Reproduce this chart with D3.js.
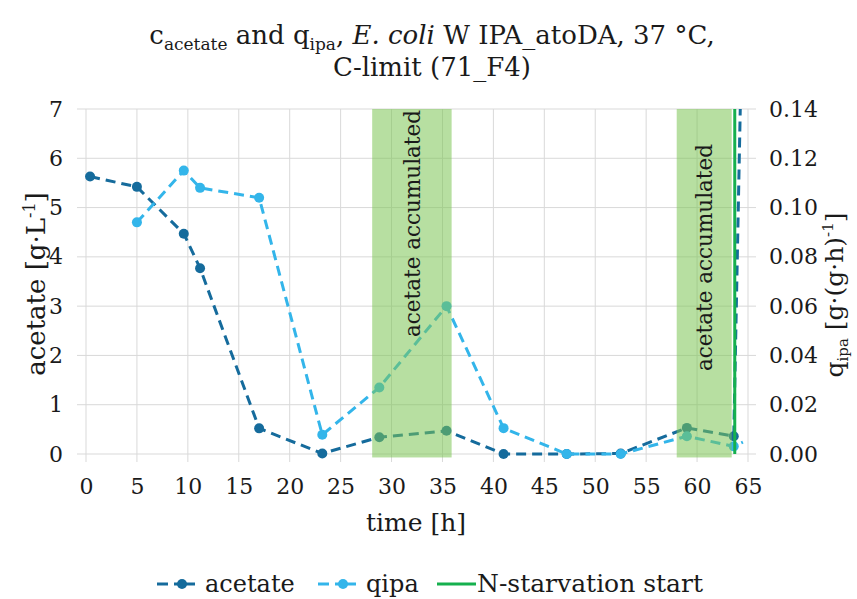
<!DOCTYPE html>
<html><head><meta charset="utf-8">
<script src="https://cdn.jsdelivr.net/npm/d3@7"></script>
<style>body{margin:0;background:#fff}svg{display:block}svg text{font-family:"DejaVu Serif",serif !important;fill:#1a1a1a}</style>
</head><body><div id="chart"></div>
<script>
// ---- data ----
const time    = [0.4, 5.0, 9.6, 11.2, 17.0, 23.2, 28.8, 35.4, 41.0, 47.2, 52.5, 59.0, 63.6, 64.5];
const acetate = [5.63, 5.42, 4.47, 3.77, 0.52, 0.01, 0.34, 0.47, 0.0, 0.0, 0.01, 0.53, 0.36, 9.7];
const qipa    = [null, 0.094, 0.115, 0.108, 0.104, 0.0078, 0.027, 0.060, 0.0105, 0.0, 0.0, 0.0072, 0.0031, 0.0048];
const markerShown = [1,1,1,1,1,1,1,1,1,1,1,1,1,0];
const shadeStart = [28.1, 58.0];
const shadeEnd   = [35.9, 63.4];
const shadeLabel = ["acetate accumulated", "acetate accumulated"];
const nStarvation = 63.7;
const xTicks  = [0,5,10,15,20,25,30,35,40,45,50,55,60,65];
const yLTicks = [0,1,2,3,4,5,6,7];
const yRTicks = [0,0.02,0.04,0.06,0.08,0.10,0.12,0.14];

const W = 857, H = 599;
const L = 86, R = 748, T = 109, B = 454;
const cAc = "#156b9c", cQ = "#33b5ea", cN = "#16b04e";

const svg = d3.select("#chart").append("svg").attr("width", W).attr("height", H);
const x  = d3.scaleLinear().domain([0, 65]).range([L, R]);
const yL = d3.scaleLinear().domain([0, 7]).range([B, T]);
const yR = d3.scaleLinear().domain([0, 0.14]).range([B, T]);

svg.append("clipPath").attr("id", "clip").append("rect")
  .attr("x", L - 10).attr("y", T).attr("width", R - L + 20).attr("height", B - T + 10);

// grid
const grid = svg.append("g").attr("stroke", "#d9d9d9").attr("stroke-width", 1);
grid.selectAll(".h").data(yLTicks).join("line")
  .attr("x1", L - 9).attr("x2", R + 8).attr("y1", d => yL(d)).attr("y2", d => yL(d));
grid.selectAll(".v").data(xTicks).join("line")
  .attr("x1", d => x(d)).attr("x2", d => x(d)).attr("y1", T).attr("y2", B + 8);

// axes (labels only, via d3 axes)
const axL = svg.append("g").attr("transform", `translate(${L - 9},0)`)
  .call(d3.axisLeft(yL).tickValues(yLTicks).tickSize(0).tickPadding(14).tickFormat(d3.format("d")));
const axR = svg.append("g").attr("transform", `translate(${R + 8},0)`)
  .call(d3.axisRight(yR).tickValues(yRTicks).tickSize(0).tickPadding(13).tickFormat(d3.format(".2f")));
const axB = svg.append("g").attr("transform", `translate(0,${B + 8})`)
  .call(d3.axisBottom(x).tickValues(xTicks).tickSize(0).tickPadding(16).tickFormat(d3.format("d")));
[axL, axR, axB].forEach(a => {
  a.select(".domain").remove();
  a.selectAll("text").attr("font-size", 22).attr("fill", "#1a1a1a");
});

const plot = svg.append("g").attr("clip-path", "url(#clip)");
const pts = time.map((t, i) => ({t, a: acetate[i], q: qipa[i], m: markerShown[i]}));

// acetate
plot.append("path").datum(pts).attr("fill", "none").attr("stroke", cAc)
  .attr("stroke-width", 3).attr("stroke-dasharray", "10,6")
  .attr("d", d3.line().x(d => x(d.t)).y(d => yL(d.a)));
plot.selectAll(".ma").data(pts.filter(d => d.m)).join("circle")
  .attr("cx", d => x(d.t)).attr("cy", d => yL(d.a)).attr("r", 5).attr("fill", cAc);

// qipa
const qp = pts.filter(d => d.q !== null);
plot.append("path").datum(qp).attr("fill", "none").attr("stroke", cQ)
  .attr("stroke-width", 3).attr("stroke-dasharray", "10,6")
  .attr("d", d3.line().x(d => x(d.t)).y(d => yR(d.q)));
plot.selectAll(".mq").data(qp.filter(d => d.m)).join("circle")
  .attr("cx", d => x(d.t)).attr("cy", d => yR(d.q)).attr("r", 5).attr("fill", cQ);

// shaded regions
const shades = shadeStart.map((s, i) => ({s, e: shadeEnd[i], label: shadeLabel[i]}));
svg.selectAll(".shade").data(shades).join("rect")
  .attr("x", d => x(d.s)).attr("width", d => x(d.e) - x(d.s))
  .attr("y", yL(7)).attr("height", yL(-0.07) - yL(7))
  .attr("fill", "#7cc453").attr("opacity", 0.55);
const labTop = [110, 144];
svg.selectAll(".slab").data(shades).join("text")
  .attr("transform", (d, i) => `translate(${(x(d.s) + x(d.e)) / 2 + 8},${labTop[i]}) rotate(-90)`)
  .attr("text-anchor", "end").attr("font-size", 21.5).text(d => d.label);

// N-starvation line
svg.append("line").attr("x1", x(nStarvation)).attr("x2", x(nStarvation))
  .attr("y1", yL(7)).attr("y2", yL(0)).attr("stroke", cN).attr("stroke-width", 3);

// titles
const title = svg.append("text").attr("x", 432).attr("y", 44).attr("text-anchor", "middle").attr("font-size", 26);
title.append("tspan").text("c");
title.append("tspan").attr("font-size", 17).attr("dy", 6).text("acetate");
title.append("tspan").attr("dy", -6).text(" and q");
title.append("tspan").attr("font-size", 17).attr("dy", 6).text("ipa");
title.append("tspan").attr("dy", -6).text(", ");
title.append("tspan").attr("font-style", "italic").text("E. coli");
title.append("tspan").text(" W IPA_atoDA, 37 °C,");
svg.append("text").attr("x", 432).attr("y", 76).attr("text-anchor", "middle").attr("font-size", 26)
  .text("C-limit (71_F4)");

// axis titles
svg.append("text").attr("x", 416).attr("y", 531).attr("text-anchor", "middle").attr("font-size", 25).text("time [h]");
const yl = svg.append("text").attr("transform", "translate(45,284) rotate(-90)").attr("text-anchor", "middle").attr("font-size", 26);
yl.append("tspan").text("acetate [g·L");
yl.append("tspan").attr("font-size", 16).attr("dy", -10).text("-1");
yl.append("tspan").attr("dy", 10).text("]");
const yr = svg.append("text").attr("transform", "translate(843,295) rotate(-90)").attr("text-anchor", "middle").attr("font-size", 25);
yr.append("tspan").text("q");
yr.append("tspan").attr("font-size", 15).attr("dy", 5).text("ipa");
yr.append("tspan").attr("dy", -5).text(" [g·(g·h)");
yr.append("tspan").attr("font-size", 15).attr("dy", -10).text("-1");
yr.append("tspan").attr("dy", 10).text("]");

// legend
const lg = svg.append("g");
const legItems = [
  {name: "acetate", color: cAc, dash: true, x0: 157},
  {name: "qipa", color: cQ, dash: true, x0: 318},
  {name: "N-starvation start", color: cN, dash: false, x0: 437}
];
const ly = 584;
legItems.forEach(it => {
  if (it.dash) {
    lg.append("line").attr("x1", it.x0).attr("x2", it.x0 + 11).attr("y1", ly).attr("y2", ly)
      .attr("stroke", it.color).attr("stroke-width", 3);
    lg.append("line").attr("x1", it.x0 + 17).attr("x2", it.x0 + 38).attr("y1", ly).attr("y2", ly)
      .attr("stroke", it.color).attr("stroke-width", 3);
    lg.append("circle").attr("cx", it.x0 + 25).attr("cy", ly).attr("r", 5).attr("fill", it.color);
    lg.append("text").attr("x", it.x0 + 48).attr("y", ly + 8).attr("font-size", 24).text(it.name);
  } else {
    lg.append("line").attr("x1", it.x0).attr("x2", it.x0 + 39).attr("y1", ly).attr("y2", ly)
      .attr("stroke", it.color).attr("stroke-width", 3);
    lg.append("text").attr("x", it.x0 + 40).attr("y", ly + 8).attr("font-size", 25).text(it.name);
  }
});
</script></body></html>
